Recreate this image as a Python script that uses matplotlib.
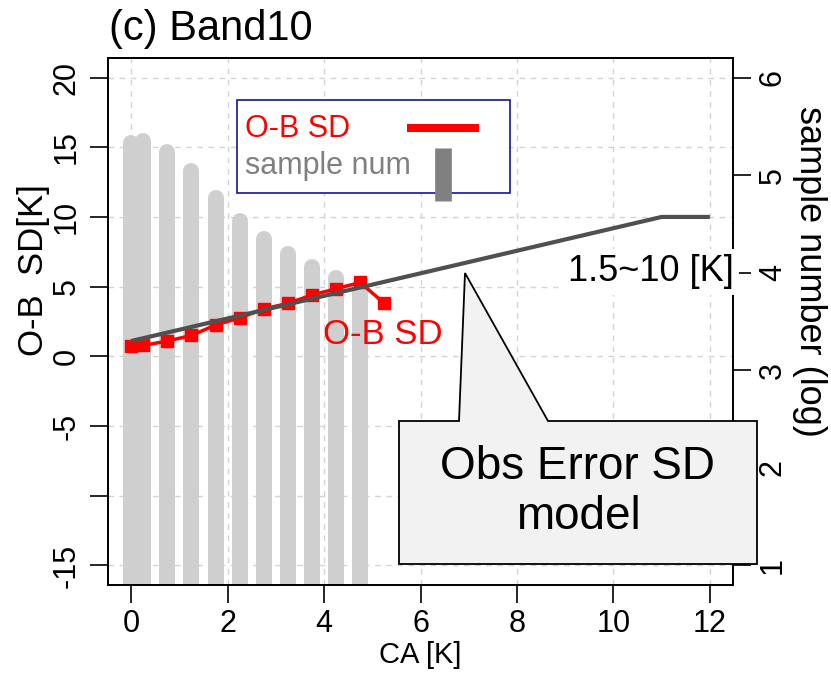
import matplotlib
matplotlib.use("Agg")
import matplotlib.pyplot as plt
from matplotlib import transforms
from matplotlib.patches import Rectangle, Polygon
from matplotlib.lines import Line2D

plt.rcParams['font.family'] = ['Liberation Sans', 'DejaVu Sans']

# O-B standard deviation per cloud-amount bin
ca_bins = [0, 0.25, 0.75, 1.25, 1.75, 2.25, 2.75, 3.25, 3.75, 4.25, 4.75, 5.25]
ob_sd = [0.75, 0.78, 1.1, 1.5, 2.25, 2.75, 3.4, 3.8, 4.4, 4.85, 5.3, 3.8]

# sample count per bin (log10)
sample_x = [0, 0.25, 0.75, 1.25, 1.75, 2.25, 2.75, 3.25, 3.75, 4.25, 4.75]
sample_log = [5.33, 5.35, 5.24, 5.04, 4.77, 4.53, 4.35, 4.19, 4.06, 3.95, 3.85]

# observation error model: linear ramp then constant
model_x = [0, 11, 12]
model_y = [1.1, 10, 10]

xticks = [0, 2, 4, 6, 8, 10, 12]
yticks = [-15, -10, -5, 0, 5, 10, 15, 20]
ytick_labels = ['-15', '', '-5', '0', '5', '10', '15', '20']
rticks = [1, 2, 3, 4, 5, 6]

W, H = 831, 674


def fx(x):
    return x / W


def fy(y):
    return 1 - y / H


fig = plt.figure(figsize=(W / 100, H / 100), dpi=100)
ax = fig.add_axes([fx(108), fy(585), fx(733) - fx(108), fy(58) - fy(585)])
ax2 = ax.twinx()

ax.set_xlim(-0.48, 12.48)
ax.set_ylim(-16.4, 21.4)
ax2.set_ylim(0.8, 6.2)

# grid
for v in xticks:
    ax.axvline(v, color='#d3d3d3', lw=1, ls=(0, (4, 4)), zorder=0)
for v in yticks:
    ax.axhline(v, color='#d3d3d3', lw=1, ls=(0, (4, 4)), zorder=0)

# sample number bars use the right axis scale
bar_tr = transforms.blended_transform_factory(ax.transData, ax2.transData)
ax.vlines(sample_x, 0, sample_log, transform=bar_tr, color='#cfcfcf',
          lw=11.5, capstyle='round', zorder=1)

ax.plot(ca_bins, ob_sd, color='red', lw=2.5, marker='s', ms=8.5,
        zorder=3)
ax.plot(model_x, model_y, color='#505050', lw=3, zorder=4,
        solid_capstyle='butt')

ax.set_xticks(xticks)
ax.set_yticks(yticks)
ax.set_yticklabels(ytick_labels)
ax2.set_yticks(rticks)

for a in (ax, ax2):
    for s in a.spines.values():
        s.set_linewidth(1.3)
ax.tick_params(axis='both', length=13, width=1.2, labelsize=22, pad=4)
ax.tick_params(axis='y', labelrotation=90, pad=6)
for t in ax.get_yticklabels():
    t.set_va('center')
ax2.tick_params(axis='y', length=13, width=1.2, labelsize=22, pad=5,
                labelrotation=90)
for t in ax2.get_yticklabels():
    t.set_va('center')

fig.text(fx(109), fy(29), '(c) Band10', fontsize=30, va='center', ha='left')
fig.text(fx(420), fy(655), 'CA [K]', fontsize=21, ha='center', va='center')
fig.text(fx(34), fy(270), 'O-B  SD[K]', fontsize=25, rotation=90,
         ha='center', va='center')
fig.text(fx(809), fy(271), 'sample number (log)', fontsize=26, rotation=-90,
         ha='center', va='center')

# legend box
fig.add_artist(Rectangle((fx(237), fy(193)), fx(510) - fx(237), fy(100) - fy(193),
                         transform=fig.transFigure, facecolor='white',
                         edgecolor='#14149a', lw=1.2, zorder=5))
fig.text(fx(245), fy(129), 'O-B SD', color='red', fontsize=22,
         ha='left', va='center', zorder=6)
fig.text(fx(245), fy(166), 'sample num', color='#808080', fontsize=22,
         ha='left', va='center', zorder=6)
fig.add_artist(Line2D([fx(407), fx(479)], [fy(128), fy(128)],
                      transform=fig.transFigure, color='red', lw=5.8,
                      solid_capstyle='butt', zorder=6))
fig.add_artist(Line2D([fx(442.5), fx(442.5)], [fy(148), fy(201)],
                      transform=fig.transFigure, color='#808080', lw=12,
                      solid_capstyle='butt', zorder=6))

fig.text(fx(383), fy(335), 'O-B SD', color='red', fontsize=25,
         ha='center', va='center', zorder=6)
fig.text(fx(651), fy(272), '1.5~10 [K]', color='black', fontsize=26,
         ha='center', va='center', zorder=6,
         bbox=dict(boxstyle='square,pad=0.15', fc='white', ec='none'))

# callout
callout = [(399, 421), (459, 421), (465, 273), (548, 421), (757, 421),
           (757, 564), (399, 564)]
fig.add_artist(Polygon([(fx(x), fy(y)) for x, y in callout], closed=True,
                       transform=fig.transFigure, facecolor='#f2f2f2',
                       edgecolor='black', lw=1.3, zorder=10))
fig.text(fx(578), fy(492), 'Obs Error SD\nmodel', fontsize=33,
         ha='center', va='center', linespacing=1.15, zorder=11)

fig.savefig('out.png', dpi=100)
